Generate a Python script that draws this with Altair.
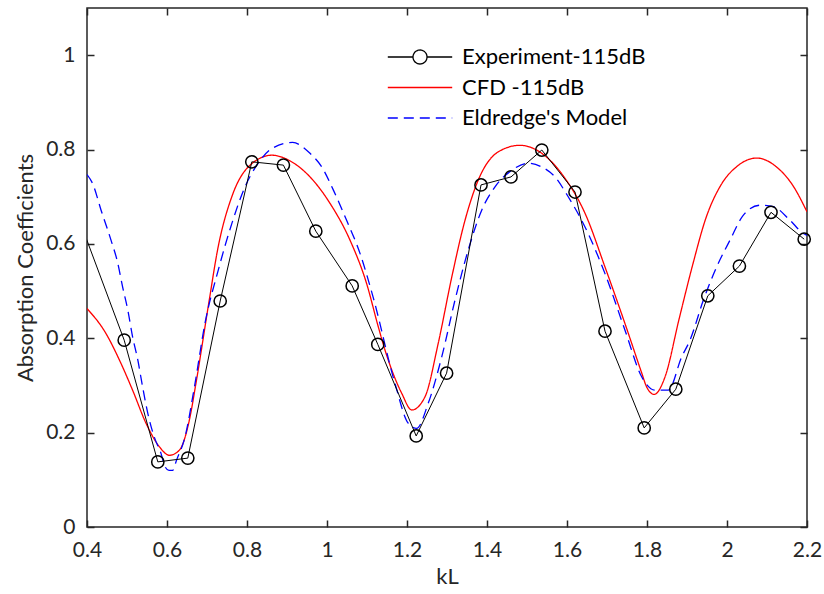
import altair as alt
import pandas as pd

SERIES = ["Experiment-115dB", "CFD -115dB", "Eldredge's Model"]

# Experiment (measured points)
exp_kl = [0.39, 0.493, 0.577, 0.652, 0.733, 0.812, 0.891, 0.972, 1.063, 1.127, 1.223,
          1.299, 1.385, 1.46, 1.537, 1.62, 1.695, 1.793, 1.872, 1.952, 2.031, 2.11, 2.193]
exp_alpha = [0.63, 0.396, 0.138, 0.146, 0.479, 0.774, 0.767, 0.627, 0.511, 0.387, 0.193,
             0.326, 0.725, 0.742, 0.799, 0.710, 0.415, 0.210, 0.292, 0.490, 0.553, 0.667, 0.610]

# CFD curve
cfd_kl = [0.400, 0.4475, 0.481, 0.514, 0.5475, 0.581, 0.606, 0.631, 0.656, 0.6725, 0.703,
          0.728, 0.762, 0.803, 0.862, 0.9075, 0.9575, 1.0075, 1.0575, 1.099, 1.128, 1.145,
          1.187, 1.212, 1.245, 1.278, 1.312, 1.345, 1.378, 1.428, 1.482, 1.537, 1.595,
          1.645, 1.695, 1.745, 1.787, 1.799, 1.818, 1.845, 1.880, 1.914, 1.947, 1.985,
          2.026, 2.074, 2.124, 2.166, 2.200]
cfd_alpha = [0.463, 0.410, 0.354, 0.290, 0.220, 0.170, 0.152, 0.163, 0.227, 0.305, 0.467,
             0.594, 0.700, 0.763, 0.788, 0.776, 0.742, 0.686, 0.608, 0.516, 0.425, 0.375,
             0.283, 0.248, 0.276, 0.389, 0.530, 0.650, 0.735, 0.795, 0.809, 0.792, 0.739,
             0.665, 0.551, 0.431, 0.326, 0.297, 0.281, 0.318, 0.440, 0.555, 0.654, 0.725,
             0.765, 0.782, 0.763, 0.722, 0.668]

# Eldredge's model curve
eld_kl = [0.400, 0.414, 0.435, 0.460, 0.477, 0.489, 0.502, 0.514, 0.527, 0.539, 0.552,
          0.568, 0.585, 0.595, 0.605, 0.614, 0.624, 0.645, 0.670, 0.695, 0.728, 0.762,
          0.795, 0.828, 0.862, 0.914, 0.9575, 0.987, 1.016, 1.049, 1.0825, 1.116, 1.170,
          1.203, 1.224, 1.253, 1.287, 1.320, 1.353, 1.387, 1.420, 1.462, 1.503, 1.537,
          1.570, 1.603, 1.645, 1.695, 1.745, 1.787, 1.820, 1.853, 1.887, 1.9075, 1.941,
          1.974, 2.0075, 2.041, 2.0825, 2.116, 2.1575, 2.191, 2.200]
eld_alpha = [0.747, 0.728, 0.672, 0.608, 0.559, 0.509, 0.460, 0.403, 0.354, 0.297, 0.241,
             0.191, 0.156, 0.128, 0.120, 0.120, 0.142, 0.191, 0.304, 0.432, 0.544, 0.643,
             0.721, 0.771, 0.802, 0.815, 0.792, 0.763, 0.714, 0.650, 0.580, 0.485, 0.304,
             0.220, 0.209, 0.262, 0.361, 0.481, 0.587, 0.672, 0.721, 0.756, 0.771, 0.763,
             0.742, 0.700, 0.636, 0.537, 0.417, 0.318, 0.290, 0.290, 0.361, 0.396, 0.481,
             0.551, 0.608, 0.661, 0.682, 0.679, 0.650, 0.622, 0.618]

x_ticks = [0.4, 0.6, 0.8, 1.0, 1.2, 1.4, 1.6, 1.8, 2.0, 2.2]
y_ticks = [0, 0.2, 0.4, 0.6, 0.8, 1.0]

exp_df = pd.DataFrame({"kL": exp_kl, "alpha": exp_alpha, "series": SERIES[0]})
cfd_df = pd.DataFrame({"kL": cfd_kl, "alpha": cfd_alpha, "series": SERIES[1]})
eld_df = pd.DataFrame({"kL": eld_kl, "alpha": eld_alpha, "series": SERIES[2]})
curves = pd.concat([cfd_df, eld_df], ignore_index=True)
all_df = pd.concat([exp_df, curves], ignore_index=True)

FONT = "Lato"
AX = "#262626"

x_scale = alt.Scale(domain=[0.4, 2.2], nice=False, zero=False)
y_scale = alt.Scale(domain=[0, 1.1], nice=False, zero=False)
color_scale = alt.Scale(domain=SERIES, range=["#000000", "#ff0000", "#0000ff"])
dash_scale = alt.Scale(domain=SERIES, range=[[1, 0], [1, 0], [10, 6]])
EXP_SYM = "M-2.3,0L-0.5,0M0.5,0L2.3,0M0.5,0A0.5,0.5,0,1,1,-0.5,0A0.5,0.5,0,1,1,0.5,0"
LINE_SYM = "M-2.3,0L2.3,0"
shape_scale = alt.Scale(domain=SERIES, range=[EXP_SYM, LINE_SYM, LINE_SYM])

common = dict(grid=False, domain=False, tickSize=7, offset=-7, tickColor=AX,
              tickWidth=1.5, labelFont=FONT, labelFontSize=21, labelColor=AX,
              labelFlush=False, titleFont=FONT, titleFontSize=22,
              titleFontWeight="normal", titleColor=AX)

x_bottom = alt.Axis(values=x_ticks, format="~g", title="kL", orient="bottom",
                    labelPadding=12, titlePadding=6, **common)
y_left = alt.Axis(values=y_ticks, format="~g", title="Absorption Coefficients",
                  orient="left", labelPadding=12, titlePadding=8, **common)
x_top = alt.Axis(values=x_ticks, labels=False, title=None, orient="top", **common)
y_right = alt.Axis(values=y_ticks, labels=False, title=None, orient="right", **common)

leg = alt.Legend(title=None)

curve_layer = alt.Chart(curves).mark_line(interpolate="monotone", strokeWidth=1.3, clip=True).encode(
    x=alt.X("kL:Q", scale=x_scale, axis=x_bottom),
    y=alt.Y("alpha:Q", scale=y_scale, axis=y_left),
    color=alt.Color("series:N", scale=color_scale, legend=leg),
    strokeDash=alt.StrokeDash("series:N", scale=dash_scale, legend=leg),
)

exp_line = alt.Chart(exp_df).mark_line(color="#000000", strokeWidth=1, clip=True).encode(
    x=alt.X("kL:Q", scale=x_scale, axis=None),
    y=alt.Y("alpha:Q", scale=y_scale, axis=None),
)

exp_pts = alt.Chart(exp_df).transform_filter("datum.kL >= 0.4").mark_point(
    shape="circle", filled=False, size=150, color="#000000", strokeWidth=1.5, opacity=1
).encode(
    x=alt.X("kL:Q", scale=x_scale, axis=None),
    y=alt.Y("alpha:Q", scale=y_scale, axis=None),
)

legend_layer = alt.Chart(all_df).transform_filter("false").mark_point(
    filled=False, strokeWidth=1.3, opacity=1
).encode(
    x=alt.X("kL:Q", scale=x_scale, axis=x_top),
    y=alt.Y("alpha:Q", scale=y_scale, axis=y_right),
    color=alt.Color("series:N", scale=color_scale, legend=leg),
    strokeDash=alt.StrokeDash("series:N", scale=dash_scale, legend=leg),
    shape=alt.Shape("series:N", scale=shape_scale, legend=leg),
)

chart = alt.layer(curve_layer, exp_line, exp_pts, legend_layer).resolve_axis(
    x="independent", y="independent"
).properties(
    width=720, height=519,
    autosize=alt.AutoSizeParams(type="none"),
    padding={"left": 87, "top": 8, "right": 17, "bottom": 67},
    background="white",
).configure_view(
    stroke=AX, strokeWidth=1.5
).configure_legend(
    orient="none", legendX=318, legendY=34, symbolSize=784, symbolStrokeWidth=1.3,
    symbolOpacity=1,
    labelFont=FONT, labelFontSize=22, labelColor="#000000", labelOffset=27,
    rowPadding=4.5, padding=0, labelLimit=400,
)

chart.save("out.html", embed_options={"renderer": "svg", "actions": False})
